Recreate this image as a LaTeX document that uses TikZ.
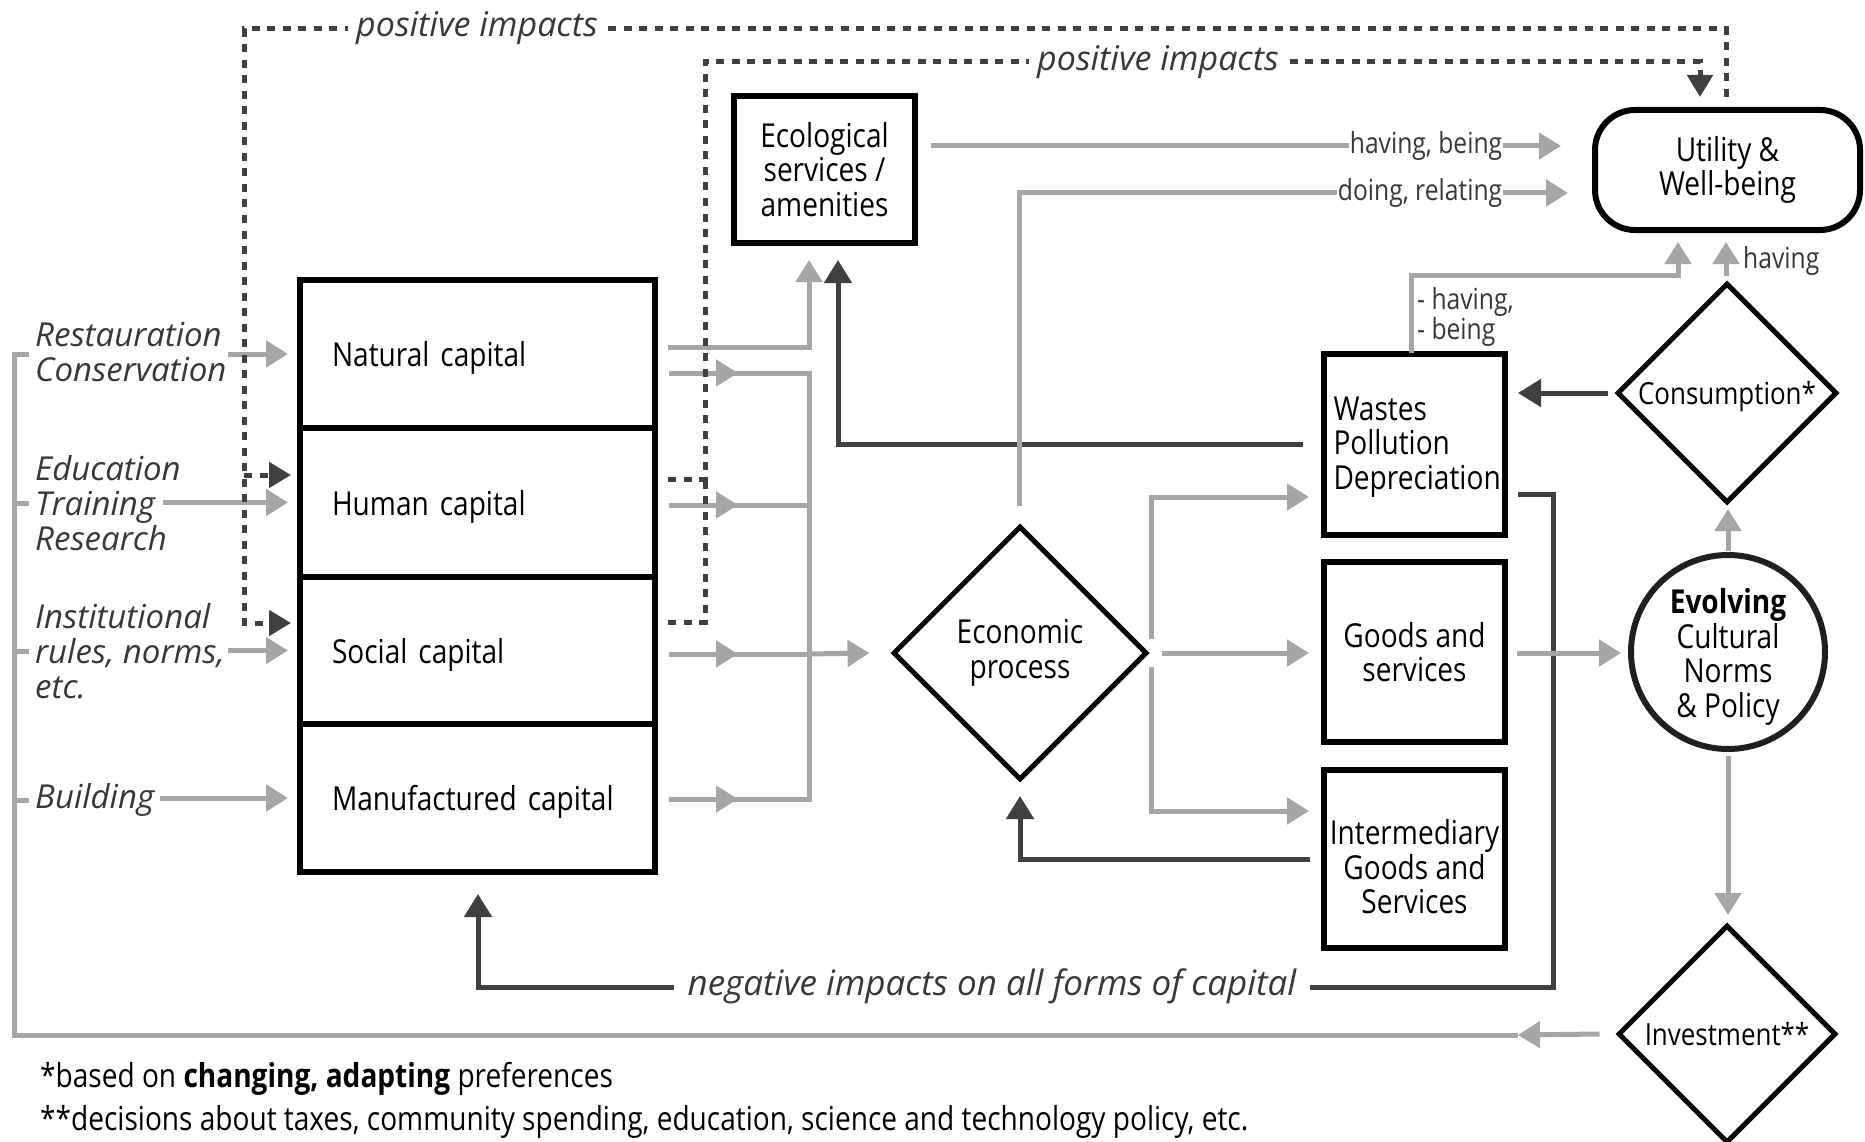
\documentclass[tikz,border=0pt]{standalone}
\usepackage{fontspec}
\setmainfont{Open Sans}[FakeStretch=0.85]
\newfontfamily\wideit{Open Sans}
\usetikzlibrary{arrows.meta,shapes.geometric}
\definecolor{lg}{HTML}{A6A6A6}
\definecolor{dg}{HTML}{404040}
\definecolor{tg}{HTML}{383838}
\begin{document}
\begin{tikzpicture}[x=1pt,y=-1pt,
  mainf/.style={font=\fontsize{33}{34.5}\selectfont},
  dmf/.style={font=\fontsize{30.5}{32}\selectfont},
  box/.style={draw=black,line width=6pt,inner sep=0pt,align=center,mainf},
  capbox/.style={box,minimum width=355,text width=291,align=left,text height=33pt,text depth=8pt},
  diam/.style={draw=black,diamond,aspect=1,line width=5pt,inner sep=0pt},
  gline/.style={draw=lg,line width=5pt},
  garr/.style={gline,-{Triangle[length=22pt,width=26pt]}},
  dline/.style={draw=dg,line width=5pt},
  darr/.style={dline,-{Triangle[length=23pt,width=27pt]}},
  dotl/.style={draw=dg,line width=5pt,dash pattern=on 8pt off 7.5pt},
  dotarr/.style={dotl,-{Triangle[length=22pt,width=25pt]}},
  itlab/.style={text=tg,font=\wideit\itshape\fontsize{33}{35}\selectfont,align=left,inner sep=2pt},
  smlab/.style={text=tg,font=\fontsize{29}{30}\selectfont,inner sep=1pt,fill=white,align=left},
]
\path[use as bounding box,fill=white] (0,0) rectangle (1865,1142);

% ---- main nodes
\node[capbox,minimum height=148] (nat) at (477.5,354) {Natural capital};
\node[capbox,minimum height=149] (hum) at (477.5,502.5) {Human capital};
\node[capbox,minimum height=147] (soc) at (477.5,650.5) {Social capital};
\node[capbox,minimum height=148] (man) at (477.5,798) {Manufactured capital};

\node[box,minimum width=181,minimum height=147] (eco) at (824.5,169.5) {Ecological\\services /\\amenities};
\node[box,rounded corners=40pt,minimum width=265,minimum height=120] (util) at (1727.5,170) {Utility \&\\Well-being};
\node[box,minimum width=181,minimum height=181,label={[mainf,text width=162,align=left,yshift=-3pt]center:Wastes\\Pollution\\Depreciation}] (waste) at (1414.5,444) {};
\node[box,minimum width=181,minimum height=180] (goods) at (1414.5,652) {Goods and\\services};
\node[box,minimum width=181,minimum height=178,label={[mainf,align=center,yshift=-8pt]center:Intermediary\\Goods and\\Services}] (inter) at (1414.5,859) {};

\node[diam,minimum width=254,minimum height=254,label={[mainf,align=center]center:Economic\\process}] (econ) at (1020,653) {};
\node[diam,minimum width=220,minimum height=220,label={[dmf,yshift=-4pt]center:Consumption*}] (cons) at (1727,393) {};
\node[diam,minimum width=218,minimum height=218,label={[dmf]center:Investment**}] (inv) at (1727,1034) {};
\node[circle,draw=black!88,line width=6pt,minimum size=194,inner sep=0pt,label={[mainf,align=center,yshift=-5pt]center:\textbf{Evolving}\\Cultural\\Norms\\\& Policy}] (evol) at (1728,652) {};

% ---- left labels
\node[itlab,anchor=west] (rest) at (33,352) {Restauration\\Conservation};
\node[itlab,anchor=west] (edu) at (33,503) {Education\\Training\\Research};
\node[itlab,anchor=west] (inst) at (33,651) {Institutional\\rules, norms,\\etc.};
\node[itlab,anchor=west] (build) at (33,800) {Building};

% ---- gray connectors
\coordinate (invL) at (1518,1035);
\draw[gline] (invL) -- (14,1035) -- (14,354) -- (29,354);
\foreach \y in {503,651,800} \draw[gline] (14,\y) -- (29,\y);
\draw[garr] ([xshift=-16pt]inv.west) -- (invL);

\draw[garr] (228,354) -- ([xshift=-9pt]nat.west);
\draw[garr] (163,502.5) -- ([xshift=-9pt]hum.west);
\draw[garr] (228,650.5) -- ([xshift=-9pt]soc.west);
\draw[garr] (160,798) -- ([xshift=-9pt]man.west);

\coordinate (busT) at (809,373);
\coordinate (busB) at (809,799);
\draw[gline] (669,373) -- (busT) -- (busB) -- (669,799);
\draw[gline] (669,505) -- (809,505);
\draw[gline] (669,654) -- (809,654);
\foreach \y in {373,505,654,799} \draw[garr] (669,\y) -- (738,\y);
\draw[garr] (809,654) -- ([xshift=-21pt]econ.west);
\draw[garr] (668,347) -- (809,347) -- (809,260);

% ---- dark connectors
\draw[darr] (1303,444) -- (838,444) -- (838,260);
\draw[darr] (1310,859) -- (1020,859) -- (1020,796);
\draw[darr] (1608,393) -- (1518,393);
\draw[darr] (1518,494) -- (1553,494) -- (1553,987) -- (478,987) -- (478,894);

% ---- more gray connectors
\draw[garr] (931,146) -- (1561,146);
\draw[garr] (1019,506) -- (1019,193) -- (1568,193);
\draw[garr] (1151,639) -- (1151,497) -- (1309,497);
\draw[garr] (1162,653) -- (1309,653);
\draw[garr] (1151,667) -- (1151,811) -- (1309,811);
\draw[garr] (1726,276) -- (1726,242);
\draw[garr] (1411,353) -- (1411,275) -- (1678,275) -- (1678,242);
\draw[garr] (1517,653) -- (1621,653);
\draw[garr] (1728,551) -- (1728,509);
\draw[garr] (1728,756) -- (1728,915);

% ---- dotted connectors
\draw[dotarr] (1726,97) -- (1726,29) -- (244,29) -- (244,623) -- (291,623);
\draw[dotarr] (244,475) -- (291,475);
\draw[dotarr] (668,479) -- (705,479) -- (705,62) -- (1700,62) -- (1700,97);
\draw[dotl] (668,622) -- (705,622) -- (705,479);

% ---- labels on connectors
\node[itlab,fill=white,inner xsep=8pt,inner ysep=4pt,font=\wideit\itshape\fontsize{34}{36}\selectfont] (pi1) at (477,28) {positive impacts};
\node[itlab,fill=white,inner xsep=8pt,inner ysep=4pt,font=\wideit\itshape\fontsize{34}{36}\selectfont] (pi2) at (1158,62) {positive impacts};
\node[itlab,fill=white,inner xsep=14pt,inner ysep=4pt,font=\wideit\itshape\fontsize{35}{37}\selectfont] (neg) at (992,986) {negative impacts on all forms of capital};
\node[smlab] (hb) at (1426,146) {having, being};
\node[smlab] (dr) at (1420,193) {doing, relating};
\node[smlab,anchor=west] (hv) at (1742,261) {having};
\node[smlab,anchor=west,fill=none] (hb2) at (1416,317) {- having,\\- being};

% ---- footnotes
\node[anchor=west,font=\fontsize{33}{35}\selectfont,inner sep=0pt] (fn1) at (40,1079) {*based on \textbf{changing, adapting} preferences};
\node[anchor=west,font=\fontsize{33}{35}\selectfont,inner sep=0pt] (fn2) at (40,1122) {**decisions about taxes, community spending, education, science and technology policy, etc.};
\end{tikzpicture}
\end{document}
